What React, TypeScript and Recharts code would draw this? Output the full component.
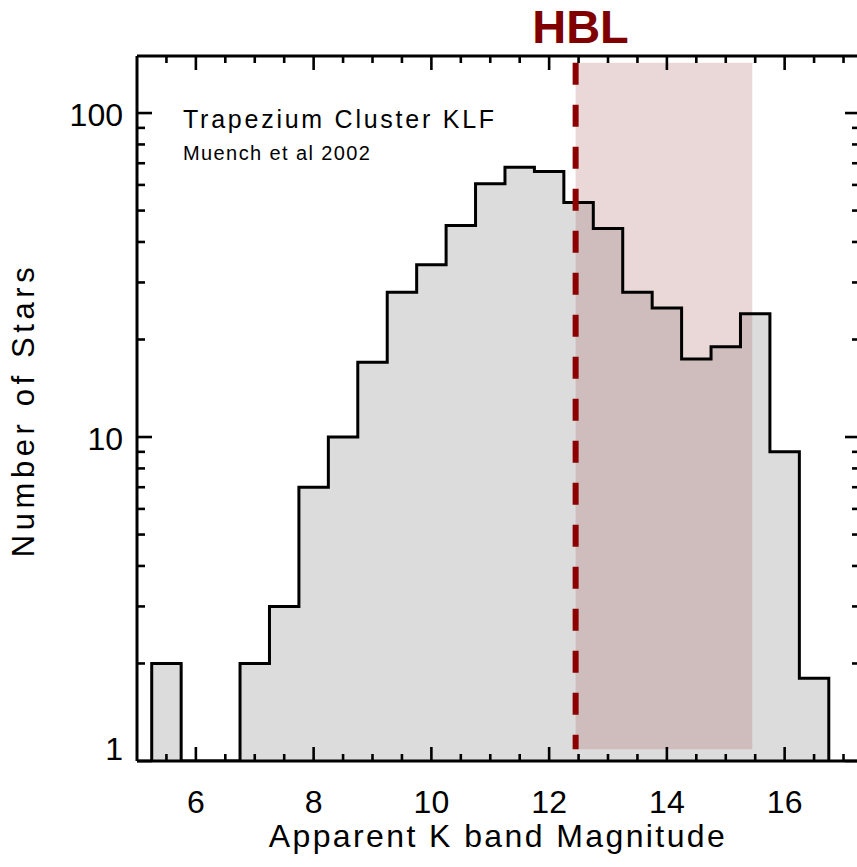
import React from 'react';
import { ComposedChart, Area, Line, XAxis, YAxis } from 'recharts';

// Histogram bin edges (K magnitude) and star counts per 0.5 mag bin
const binEdges = [5.25, 5.75, 6.25, 6.75, 7.25, 7.75, 8.25, 8.75, 9.25, 9.75, 10.25, 10.75, 11.25, 11.75, 12.25, 12.75, 13.25, 13.75, 14.25, 14.75, 15.25, 15.75, 16.25, 16.75];
const starCounts = [2, 0, 0, 2, 3, 7, 10, 17, 28, 34, 45, 60.5, 68, 66, 53, 44, 28, 25, 17.4, 19, 24, 9, 1.8];

// HBL marker and shaded region
const hblMag = 12.45;
const hblRange = [12.45, 15.45];
const hblCountRange = [1.087, 143];

// Axes
const xDomain = [5, 17.28];
const yDomain = [1, 150];
const xTicks = [5.5, 6, 6.5, 7, 7.5, 8, 8.5, 9, 9.5, 10, 10.5, 11, 11.5, 12, 12.5, 13, 13.5, 14, 14.5, 15, 15.5, 16, 16.5, 17];
const xMajorTicks = [6, 8, 10, 12, 14, 16];
const yTicks = [1, 2, 3, 4, 5, 6, 7, 8, 9, 10, 20, 30, 40, 50, 60, 70, 80, 90, 100];
const yMajorTicks = [1, 10, 100];

const BASE = yDomain[0];

const histRows: { x: number; n: number }[] = [{ x: binEdges[0], n: BASE }];
starCounts.forEach((c, i) => histRows.push({ x: binEdges[i], n: c > 0 ? c : BASE }));
histRows.push({ x: binEdges[binEdges.length - 1], n: starCounts[starCounts.length - 1] });
histRows.push({ x: binEdges[binEdges.length - 1], n: BASE });

const shadeRows = [
  { x: hblRange[0], n: hblCountRange[1] },
  { x: hblRange[1], n: hblCountRange[1] },
];
const hblLineRows = [
  { x: hblMag, n: hblCountRange[1] },
  { x: hblMag, n: hblCountRange[0] },
];

const FONT = '"Liberation Sans", Arial, Helvetica, sans-serif';

const BottomTick = (props: any) => {
  const { x, y, payload } = props;
  const major = xMajorTicks.includes(payload.value);
  return (
    <g>
      <line x1={x} y1={y} x2={x} y2={y - (major ? 14 : 7)} stroke="#000" strokeWidth={2.6} />
      {major && (
        <text x={x} y={y + 52} textAnchor="middle" fontSize={32} fontFamily={FONT} fill="#000">
          {payload.value}
        </text>
      )}
    </g>
  );
};

const TopTick = (props: any) => {
  const { x, y, payload } = props;
  const major = xMajorTicks.includes(payload.value);
  return <line x1={x} y1={y} x2={x} y2={y + (major ? 14 : 7)} stroke="#000" strokeWidth={2.6} />;
};

const LeftTick = (props: any) => {
  const { x, y, payload } = props;
  const major = yMajorTicks.includes(payload.value);
  return (
    <g>
      <line x1={x} y1={y} x2={x + (major ? 15 : 8)} y2={y} stroke="#000" strokeWidth={2.6} />
      {major && (
        <text x={x - 14} y={payload.value === 1 ? y - 1 : y + 13} textAnchor="end" fontSize={32} fontFamily={FONT} fill="#000">
          {payload.value}
        </text>
      )}
    </g>
  );
};

const RightTick = (props: any) => {
  const { x, y, payload } = props;
  const major = yMajorTicks.includes(payload.value);
  return <line x1={x} y1={y} x2={x - (major ? 15 : 8)} y2={y} stroke="#000" strokeWidth={2.6} />;
};

const axisLine = { stroke: '#000', strokeWidth: 3 };

export default function App() {
  return (
    <div style={{ position: 'absolute', left: 0, top: 0, width: 857, height: 867, overflow: 'hidden', background: '#fff' }}>
      <ComposedChart
        width={870}
        height={867}
        data={histRows}
        margin={{ top: 55, right: 9, bottom: 26, left: 57 }}
      >
        <XAxis
          xAxisId="bottom"
          dataKey="x"
          type="number"
          domain={xDomain}
          allowDataOverflow
          ticks={xTicks}
          interval={0}
          tickSize={0}
          tickMargin={0}
          tickLine={false}
          axisLine={axisLine}
          tick={BottomTick}
          height={80}
        />
        <XAxis
          xAxisId="top"
          orientation="top"
          dataKey="x"
          type="number"
          domain={xDomain}
          allowDataOverflow
          ticks={xTicks}
          interval={0}
          tickSize={0}
          tickMargin={0}
          tickLine={false}
          axisLine={axisLine}
          tick={TopTick}
          height={1}
        />
        <YAxis
          yAxisId="left"
          type="number"
          scale="log"
          domain={yDomain}
          allowDataOverflow
          ticks={yTicks}
          interval={0}
          tickSize={0}
          tickMargin={0}
          tickLine={false}
          axisLine={axisLine}
          tick={LeftTick}
          width={80}
        />
        <YAxis
          yAxisId="right"
          orientation="right"
          type="number"
          scale="log"
          domain={yDomain}
          allowDataOverflow
          ticks={yTicks}
          interval={0}
          tickSize={0}
          tickMargin={0}
          tickLine={false}
          axisLine={axisLine}
          tick={RightTick}
          width={1}
        />
        <Area
          xAxisId="bottom"
          yAxisId="left"
          dataKey="n"
          type="stepAfter"
          baseValue={BASE}
          fill="#dcdcdc"
          fillOpacity={1}
          stroke="none"
          isAnimationActive={false}
          dot={false}
          activeDot={false}
        />
        <Area
          xAxisId="bottom"
          yAxisId="left"
          data={shadeRows}
          dataKey="n"
          type="linear"
          baseValue={hblCountRange[0]}
          fill="#a35555"
          fillOpacity={0.23}
          stroke="none"
          isAnimationActive={false}
          dot={false}
          activeDot={false}
        />
        <Line
          xAxisId="bottom"
          yAxisId="left"
          dataKey="n"
          type="stepAfter"
          stroke="#000"
          strokeWidth={3}
          dot={false}
          activeDot={false}
          isAnimationActive={false}
        />
        <Line
          xAxisId="bottom"
          yAxisId="left"
          data={hblLineRows}
          dataKey="n"
          type="linear"
          stroke="#8b0000"
          strokeWidth={6}
          strokeDasharray="22 20"
          dot={false}
          activeDot={false}
          isAnimationActive={false}
        />
      </ComposedChart>
      <svg width={857} height={867} style={{ position: 'absolute', left: 0, top: 0, pointerEvents: 'none' }}>
        <text x={580.5} y={43} textAnchor="middle" fontSize={47} fontWeight="bold" fontFamily={FONT} fill="#800000">
          HBL
        </text>
        <text x={183} y={128} fontSize={25} letterSpacing={2.75} fontFamily={FONT} fill="#000">
          Trapezium Cluster KLF
        </text>
        <text x={183} y={160} fontSize={20} letterSpacing={1.4} fontFamily={FONT} fill="#000">
          Muench et al 2002
        </text>
        <text x={498} y={847} textAnchor="middle" fontSize={32} letterSpacing={2.4} fontFamily={FONT} fill="#000">
          Apparent K band Magnitude
        </text>
        <text
          x={34}
          y={410}
          textAnchor="middle"
          fontSize={31}
          letterSpacing={4.6}
          fontFamily={FONT}
          fill="#000"
          transform="rotate(-90, 34, 410)"
        >
          Number of Stars
        </text>
      </svg>
    </div>
  );
}
